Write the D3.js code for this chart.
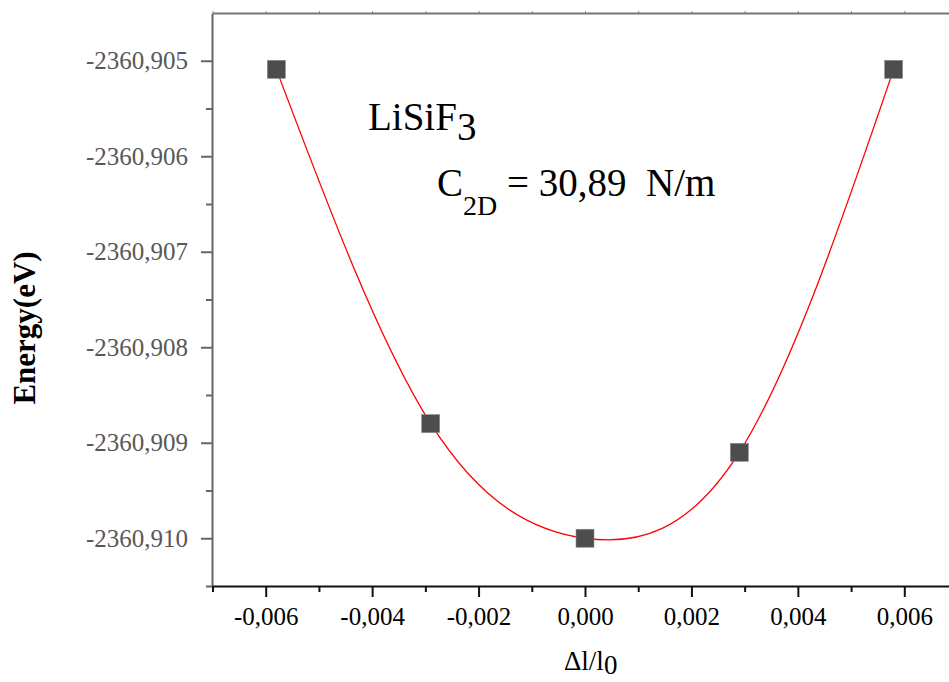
<!DOCTYPE html>
<html>
<head>
<meta charset="utf-8">
<script src="https://cdn.jsdelivr.net/npm/d3@7"></script>
<style>
  html, body { margin: 0; padding: 0; background: #fff; }
  svg { display: block; }
  text { font-family: "Liberation Serif", "Times New Roman", serif; }
</style>
</head>
<body>
<svg id="chart" width="949" height="682"></svg>
<script>
// ---- data ----
const strain = [-0.0058, -0.0029, 0.0, 0.0029, 0.0058];
const energy = [-2360.90509, -2360.90880, -2360.91000, -2360.90910, -2360.90509];
const xTicks = [-0.006, -0.004, -0.002, 0.000, 0.002, 0.004, 0.006];
const xMinorTicks = [-0.007, -0.005, -0.003, -0.001, 0.001, 0.003, 0.005, 0.007];
const yTicks = [-2360.905, -2360.906, -2360.907, -2360.908, -2360.909, -2360.910];
const yMinorTicks = [-2360.9055, -2360.9065, -2360.9075, -2360.9085, -2360.9095, -2360.9105];
const xDomain = [-0.007, 0.007];
const yDomain = [-2360.9105, -2360.9045];

const loc = d3.formatLocale({decimal: ",", thousands: ".", grouping: [3], currency: ["", ""], minus: "-"});
const fmt = loc.format(".3f");

const svg = d3.select("#chart");
const x = d3.scaleLinear().domain(xDomain).range([212.5, 957.5]);
const y = d3.scaleLinear().domain(yDomain).range([586, 13]);

// top axis (tiny ticks)
const topAx = svg.append("g").attr("transform", "translate(0,13)")
  .call(d3.axisTop(x).tickValues(xTicks.concat(xMinorTicks)).tickSize(2).tickSizeOuter(0).tickFormat(""));
topAx.select(".domain").attr("stroke", "#777").attr("stroke-width", 2);
topAx.selectAll(".tick line").attr("stroke", "#888").attr("stroke-width", 1);

// left axis
const leftAx = svg.append("g").attr("transform", "translate(212,0)")
  .call(d3.axisLeft(y).tickValues(yTicks).tickSize(11).tickSizeOuter(0).tickPadding(13).tickFormat(fmt));
leftAx.select(".domain").attr("stroke", "#666").attr("stroke-width", 2);
leftAx.selectAll(".tick line").attr("stroke", "#666").attr("stroke-width", 2);
leftAx.selectAll(".tick text").attr("fill", "#585858").attr("font-size", 25)
  .attr("font-family", "Liberation Serif, Times New Roman, serif");
const leftMinor = svg.append("g").attr("transform", "translate(212,0)")
  .call(d3.axisLeft(y).tickValues(yMinorTicks).tickSize(6).tickFormat(""));
leftMinor.select(".domain").remove();
leftMinor.selectAll(".tick line").attr("stroke", "#666").attr("stroke-width", 2);

// bottom axis
const botAx = svg.append("g").attr("transform", "translate(0,586)")
  .call(d3.axisBottom(x).tickValues(xTicks).tickSize(11).tickSizeOuter(0).tickPadding(10).tickFormat(fmt));
botAx.select(".domain").attr("stroke", "#111").attr("stroke-width", 2);
botAx.selectAll(".tick line").attr("stroke", "#111").attr("stroke-width", 2);
botAx.selectAll(".tick text").attr("fill", "#000").attr("font-size", 25)
  .attr("font-family", "Liberation Serif, Times New Roman, serif");
const botMinor = svg.append("g").attr("transform", "translate(0,586)")
  .call(d3.axisBottom(x).tickValues(xMinorTicks).tickSize(6).tickFormat(""));
botMinor.select(".domain").remove();
botMinor.selectAll(".tick line").attr("stroke", "#111").attr("stroke-width", 2);

// fit curve through data
const pts = strain.map((s, i) => [s, energy[i]]);
svg.append("path")
  .attr("d", d3.line().x(d => x(d[0])).y(d => y(d[1])).curve(d3.curveNatural)(pts))
  .attr("fill", "none").attr("stroke", "#ff0000").attr("stroke-width", 1.3);

// markers
const ms = 18;
svg.append("g").selectAll("rect").data(pts).join("rect")
  .attr("x", d => x(d[0]) - ms / 2).attr("y", d => y(d[1]) - ms / 2)
  .attr("width", ms).attr("height", ms)
  .attr("fill", "#4d4d4d").attr("stroke", "#8a8a8a").attr("stroke-width", 0.6);

// annotations
const t1 = svg.append("text").attr("x", 368).attr("y", 130).attr("font-size", 39).attr("fill", "#000");
t1.append("tspan").text("LiSiF");
t1.append("tspan").attr("font-size", 39).attr("dy", 10).text("3");

const t2 = svg.append("text").attr("x", 437).attr("y", 196).attr("font-size", 39).attr("fill", "#000")
  .style("white-space", "pre");
t2.append("tspan").text("C");
t2.append("tspan").attr("font-size", 28).attr("dy", 19).text("2D");
t2.append("tspan").attr("dy", -19).text(" = 30,89  N/m");

// axis titles
svg.append("text").attr("transform", "translate(35,328) rotate(-90)")
  .attr("text-anchor", "middle").attr("font-size", 31).attr("font-weight", "bold")
  .attr("fill", "#000").text("Energy(eV)");

const xt = svg.append("text").attr("x", 564).attr("y", 670).attr("font-size", 27).attr("fill", "#000");
xt.append("tspan").text("Δl/l");
xt.append("tspan").attr("font-size", 27).attr("dy", 4).text("0");
</script>
</body>
</html>
